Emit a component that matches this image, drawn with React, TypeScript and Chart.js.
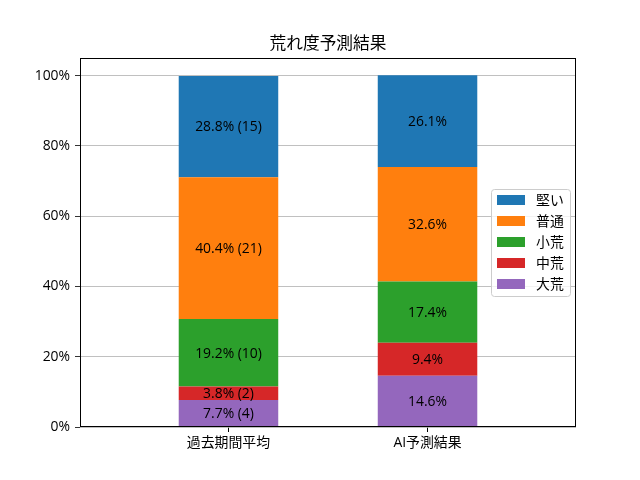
import { useEffect, useRef } from 'react'
import { Chart, registerables } from 'chart.js'

Chart.register(...registerables)

const FONT = '"Open Sans", "Noto Sans CJK JP", sans-serif'

// 下から順に積み上げ
const levels = ['大荒', '中荒', '小荒', '普通', '堅い']
const colors = ['#9467bd', '#d62728', '#2ca02c', '#ff7f0e', '#1f77b4']
const categories = ['過去期間平均', 'AI予測結果']
const pastPct = [7.7, 3.8, 19.2, 40.4, 28.8]
const pastCount = [4, 2, 10, 21, 15]
const aiPct = [14.6, 9.4, 17.4, 32.6, 26.1]
const yTicks = [0, 20, 40, 60, 80, 100]
const title = '荒れ度予測結果'

// 枠線とタイトル
const framePlugin = {
  id: 'frame',
  afterDatasetsDraw (chart) {
    const { ctx, chartArea: a } = chart
    ctx.save()
    ctx.strokeStyle = '#000'
    ctx.lineWidth = 1
    ctx.strokeRect(Math.round(a.left) + 0.5, Math.round(a.top) + 0.5,
      Math.round(a.right - a.left) - 1, Math.round(a.bottom - a.top) - 1)
    ctx.font = `16.7px ${FONT}`
    ctx.fillStyle = '#000'
    ctx.textAlign = 'center'
    ctx.textBaseline = 'middle'
    ctx.fillText(title, (a.left + a.right) / 2, 44)
    ctx.restore()
  },
}

// 各区間のラベル
const labelPlugin = {
  id: 'segLabels',
  afterDatasetsDraw (chart) {
    const { ctx } = chart
    ctx.save()
    ctx.font = `13.9px ${FONT}`
    ctx.fillStyle = '#000'
    ctx.textAlign = 'center'
    ctx.textBaseline = 'middle'
    chart.data.datasets.forEach((ds, di) => {
      const meta = chart.getDatasetMeta(di)
      meta.data.forEach((bar, i) => {
        const { x, y, base } = bar.getProps(['x', 'y', 'base'], true)
        const pct = i === 0 ? pastPct[di] : aiPct[di]
        let text = pct.toFixed(1) + '%'
        if (i === 0) text += ` (${pastCount[di]})`
        ctx.fillText(text, x, (y + base) / 2 + 1)
      })
    })
    ctx.restore()
  },
}

// 凡例（グラフ内右側）
const legendPlugin = {
  id: 'innerLegend',
  afterDraw (chart) {
    const { ctx } = chart
    const left = 491.5
    const top = 189.5
    const w = 79
    const h = 107
    ctx.save()
    ctx.beginPath()
    ctx.roundRect(left, top, w, h, 3)
    ctx.fillStyle = 'rgba(255,255,255,0.8)'
    ctx.fill()
    ctx.strokeStyle = '#cccccc'
    ctx.lineWidth = 1
    ctx.stroke()
    ctx.font = `13.9px ${FONT}`
    ctx.textBaseline = 'middle'
    ctx.textAlign = 'left'
    const order = [...levels.keys()].reverse()
    order.forEach((di, r) => {
      const cy = 200 + r * 21
      ctx.fillStyle = colors[di]
      ctx.fillRect(497, cy - 5, 28, 10)
      ctx.fillStyle = '#000'
      ctx.fillText(levels[di], 536, cy + 1)
    })
    ctx.restore()
  },
}

export default function App () {
  const canvasRef = useRef(null)
  const chartRef = useRef(null)

  useEffect(() => {
    if (chartRef.current) chartRef.current.destroy()
    const ctx = canvasRef.current.getContext('2d')

    chartRef.current = new Chart(ctx, {
      type: 'bar',
      data: {
        datasets: levels.map((name, i) => ({
          label: name,
          data: [{ x: 0, y: pastPct[i] }, { x: 1, y: aiPct[i] }],
          backgroundColor: colors[i],
          borderWidth: 0,
          stack: 'all',
          barPercentage: 0.5,
          categoryPercentage: 1,
        })),
      },
      options: {
        animation: false,
        responsive: true,
        maintainAspectRatio: false,
        layout: { padding: { left: 0, right: 64, top: 58, bottom: 0 } },
        plugins: {
          legend: { display: false },
          tooltip: { enabled: false },
          title: { display: false },
        },
        scales: {
          x: {
            type: 'linear',
            offset: false,
            min: -0.746,
            max: 1.746,
            afterBuildTicks: (s) => { s.ticks = categories.map((_, i) => ({ value: i })) },
            afterFit: (s) => { s.height = 53 },
            grid: { offset: false, drawOnChartArea: false, drawTicks: true, tickLength: 5, tickColor: '#000' },
            border: { display: false },
            ticks: {
              color: '#000',
              padding: 3,
              maxRotation: 0,
              autoSkip: false,
              font: { family: FONT, size: 13.9 },
              callback: (v) => categories[v],
            },
          },
          y: {
            stacked: true,
            min: 0,
            max: 105,
            afterBuildTicks: (s) => { s.ticks = yTicks.map(v => ({ value: v })) },
            afterFit: (s) => { s.width = 80 },
            grid: { color: '#b0b0b0', lineWidth: 0.8, tickLength: 5, tickColor: '#000' },
            border: { display: false },
            ticks: {
              color: '#000',
              padding: 5,
              font: { family: FONT, size: 13.9 },
              callback: (v) => v + '%',
            },
          },
        },
      },
      plugins: [framePlugin, labelPlugin, legendPlugin],
    })

    return () => {
      if (chartRef.current) {
        chartRef.current.destroy()
        chartRef.current = null
      }
    }
  }, [])

  return (
    <div style={{ position: 'absolute', left: 0, top: 0, width: 640, height: 480, background: '#fff' }}>
      <canvas ref={canvasRef} />
    </div>
  )
}
